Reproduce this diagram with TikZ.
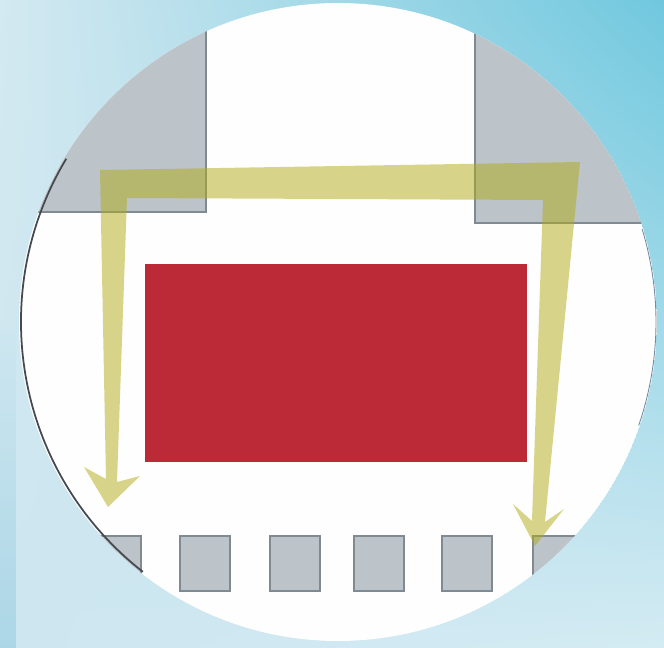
\documentclass[tikz,border=0pt]{standalone}
\usepackage{tikz}
\usetikzlibrary{shadings}
\definecolor{skyTL}{RGB}{212,233,241}
\definecolor{skyTR}{RGB}{112,200,222}
\definecolor{skyBL}{RGB}{205,230,240}
\definecolor{skyBR}{RGB}{212,235,243}
\definecolor{skyStrip}{RGB}{172,214,230}
\definecolor{padgray}{RGB}{188,196,202}
\definecolor{padedge}{RGB}{128,138,146}
\definecolor{diered}{RGB}{188,42,56}
\definecolor{wireyellow}{RGB}{178,172,22}
\definecolor{rimdark}{RGB}{70,74,80}
\definecolor{rimblue}{RGB}{120,140,160}

\begin{document}
\begin{tikzpicture}[x=0.02cm,y=-0.02cm,
  padbox/.style={fill=padgray,draw=padedge,line width=0.6pt},
  wire/.style={fill=wireyellow,fill opacity=0.5}]
\useasboundingbox (0,0) rectangle (664,648);
\shade[upper left=skyTL,upper right=skyTR,lower left=skyBL,lower right=skyBR] (0,0) rectangle (664,648);
\shade[top color=skyBL,bottom color=skyStrip] (0,330) rectangle (16,648);
\coordinate (c) at (338,322);
\begin{scope}
\clip (c) circle[radius=319];
\fill[white!99!gray] (c) circle[radius=319];
\draw[padbox] (-5,-5) rectangle (206,212);
\draw[padbox] (475,-5) rectangle (670,223);
\fill[diered] (145,264) rectangle (527,462);
\foreach \px in {91,180,270,354,442,533}
  \draw[padbox] (\px,536) rectangle ++(50,55);
\fill[wire] (100,170) -- (106,479) -- (84,467) -- (108,507) -- (140,476)
  -- (117,482) -- (127,198) -- (543,200) -- (532,521) -- (513,504)
  -- (535,546) -- (564,509) -- (545,522) -- (580,162) -- cycle;
\end{scope}
\draw[rimdark,line width=1pt] (c) ++(128:317) arc[start angle=128,end angle=211,radius=317];
\draw[rimblue,line width=0.5pt] (c) ++(-17:318) arc[start angle=-17,end angle=19,radius=318];
\end{tikzpicture}
\end{document}
